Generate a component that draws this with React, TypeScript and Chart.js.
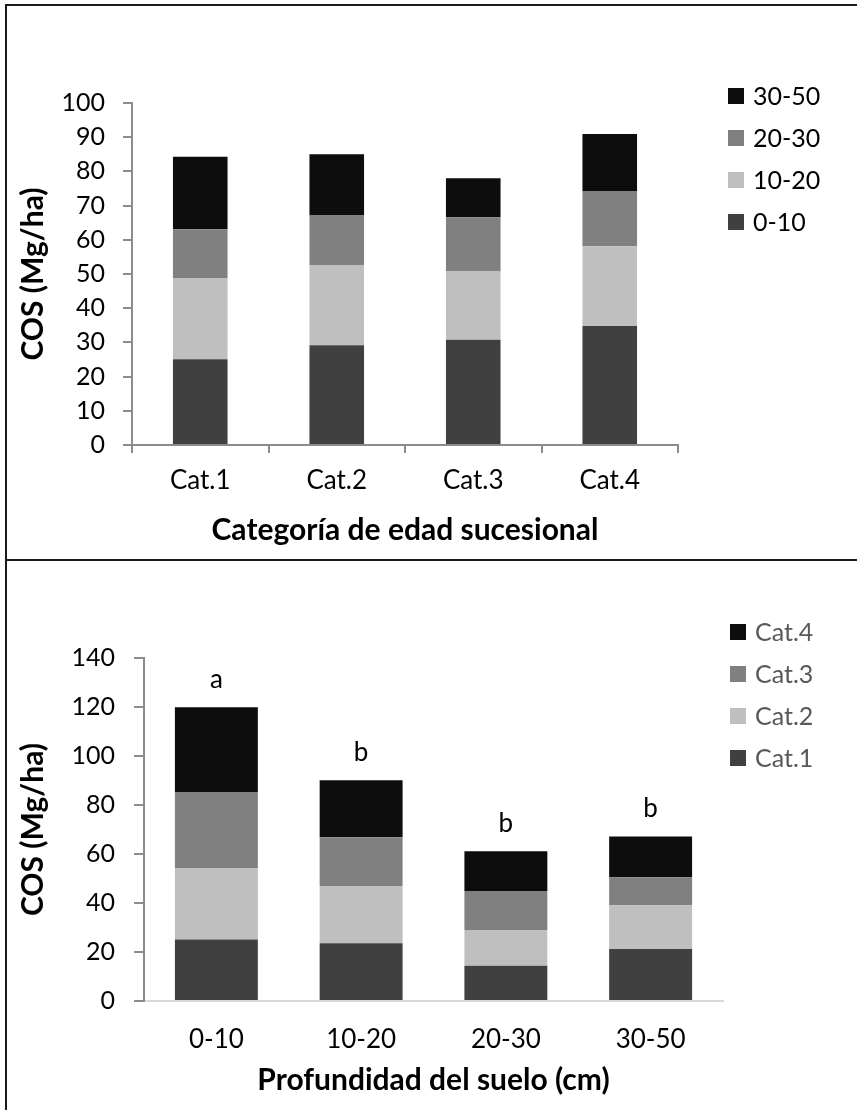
import React, { useEffect, useRef } from "react";
import { Chart, registerables } from "chart.js";

Chart.register(...registerables);

// ---- Data ----
const ageCategories = ["Cat.1", "Cat.2", "Cat.3", "Cat.4"];
const depthLayers = ["0-10", "10-20", "20-30", "30-50"];

// COS (Mg/ha) per depth layer for each successional age category
const cos0to10 = [25.1, 29.2, 30.8, 34.8];
const cos10to20 = [23.6, 23.3, 19.9, 23.3];
const cos20to30 = [14.4, 14.6, 15.9, 16.2];
const cos30to50 = [21.2, 17.9, 11.4, 16.6];

const depthLetters = ["a", "b", "b", "b"];

const seriesColors = ["#404040", "#bfbfbf", "#808080", "#0d0d0d"];

const topTitleX = "Categoría de edad sucesional";
const bottomTitleX = "Profundidad del suelo (cm)";
const titleY = "COS (Mg/ha)";

const FONT = "Lato, 'Open Sans', sans-serif";

function legendPlugin(x: number, y0: number, step: number, textColor: string) {
  return {
    id: "customLegend",
    afterDraw(chart: any) {
      const ctx = chart.ctx;
      const ds = chart.data.datasets;
      ctx.save();
      ctx.font = `25px ${FONT}`;
      ctx.textBaseline = "middle";
      ctx.textAlign = "left";
      for (let k = 0; k < ds.length; k++) {
        const d = ds[ds.length - 1 - k];
        const y = y0 + k * step;
        ctx.fillStyle = d.backgroundColor;
        ctx.fillRect(x, y - 8, 16, 16);
        ctx.fillStyle = textColor;
        ctx.fillText(d.label, x + 25, y + 1);
      }
      ctx.restore();
    },
  };
}

const lettersPlugin = {
  id: "letters",
  afterDatasetsDraw(chart: any) {
    const ctx = chart.ctx;
    const ds = chart.data.datasets;
    const meta = chart.getDatasetMeta(ds.length - 1);
    const yScale = chart.scales.y;
    ctx.save();
    ctx.font = `26px ${FONT}`;
    ctx.fillStyle = "#000";
    ctx.textAlign = "center";
    ctx.textBaseline = "middle";
    depthLetters.forEach((letter, i) => {
      let total = 0;
      ds.forEach((d: any) => (total += d.data[i]));
      const x = meta.data[i].x;
      const y = yScale.getPixelForValue(total) - 28;
      ctx.fillText(letter, x, y);
    });
    ctx.restore();
  },
};

const titleFont = { family: FONT, size: 30, weight: "bold", lineHeight: 1.2 };

function TopChart() {
  const ref = useRef<HTMLCanvasElement | null>(null);
  useEffect(() => {
    if (!ref.current) return;
    const layers = [cos0to10, cos10to20, cos20to30, cos30to50];
    const chart = new Chart(ref.current, {
      type: "bar",
      data: {
        labels: ageCategories,
        datasets: layers.map((vals, i) => ({
          label: depthLayers[i],
          data: vals,
          backgroundColor: seriesColors[i],
          borderWidth: 0,
          barPercentage: 0.4,
          categoryPercentage: 1,
        })),
      },
      options: {
        responsive: false,
        animation: false,
        layout: { padding: { left: 0, right: 179, top: 103, bottom: 0 } },
        plugins: { legend: { display: false }, tooltip: { enabled: false } },
        scales: {
          x: {
            stacked: true,
            afterFit: (s: any) => {
              s.height = 115;
            },
            grid: {
              display: true,
              drawOnChartArea: false,
              drawTicks: true,
              tickLength: 8,
              color: "#8c8c8c",
              lineWidth: 2,
              offset: true,
            },
            border: { display: true, color: "#8c8c8c", width: 2 },
            ticks: { color: "#000", font: { family: FONT, size: 26 }, padding: 12 },
            title: {
              display: true,
              text: topTitleX,
              color: "#000",
              font: titleFont,
              padding: { top: 0, bottom: 12 },
            },
          },
          y: {
            stacked: true,
            min: 0,
            max: 100,
            afterFit: (s: any) => {
              s.width = 132;
            },
            grid: {
              display: true,
              drawOnChartArea: false,
              drawTicks: true,
              tickLength: 9,
              color: "#8c8c8c",
              lineWidth: 2,
            },
            border: { display: true, color: "#8c8c8c", width: 2 },
            ticks: { stepSize: 10, color: "#000", font: { family: FONT, size: 25 }, padding: 18 },
            title: {
              display: true,
              text: titleY,
              color: "#000",
              font: titleFont,
              padding: { top: 15, bottom: 0 },
            },
          },
        },
      },
      plugins: [legendPlugin(728, 96, 42, "#000")],
    } as any);
    return () => chart.destroy();
  }, []);
  return (
    <canvas
      ref={ref}
      width={857}
      height={560}
      style={{ position: "absolute", left: 0, top: 0, width: 857, height: 560 }}
    />
  );
}

function BottomChart() {
  const ref = useRef<HTMLCanvasElement | null>(null);
  useEffect(() => {
    if (!ref.current) return;
    const layers = [cos0to10, cos10to20, cos20to30, cos30to50];
    const chart = new Chart(ref.current, {
      type: "bar",
      data: {
        labels: depthLayers,
        datasets: ageCategories.map((cat, ci) => ({
          label: cat,
          data: layers.map((vals) => vals[ci]),
          backgroundColor: seriesColors[ci],
          borderWidth: 0,
          barPercentage: 0.573,
          categoryPercentage: 1,
        })),
      },
      options: {
        responsive: false,
        animation: false,
        layout: { padding: { left: 0, right: 134, top: 98, bottom: 0 } },
        plugins: { legend: { display: false }, tooltip: { enabled: false } },
        scales: {
          x: {
            stacked: true,
            afterFit: (s: any) => {
              s.height = 109;
            },
            grid: { display: false, drawTicks: false },
            border: { display: true, color: "#d9d9d9", width: 2 },
            ticks: { color: "#000", font: { family: FONT, size: 26 }, padding: 23 },
            title: {
              display: true,
              text: bottomTitleX,
              color: "#000",
              font: titleFont,
              padding: { top: 0, bottom: 12 },
            },
          },
          y: {
            stacked: true,
            min: 0,
            max: 140,
            afterFit: (s: any) => {
              s.width = 144;
            },
            grid: {
              display: true,
              drawOnChartArea: false,
              drawTicks: true,
              tickLength: 10,
              color: "#8c8c8c",
              lineWidth: 2,
            },
            border: { display: true, color: "#8c8c8c", width: 2 },
            ticks: { stepSize: 20, color: "#000", font: { family: FONT, size: 25 }, padding: 19 },
            title: {
              display: true,
              text: titleY,
              color: "#000",
              font: titleFont,
              padding: { top: 15, bottom: 0 },
            },
          },
        },
      },
      plugins: [legendPlugin(730, 72, 42, "#595959"), lettersPlugin],
    } as any);
    return () => chart.destroy();
  }, []);
  return (
    <canvas
      ref={ref}
      width={857}
      height={550}
      style={{ position: "absolute", left: 0, top: 560, width: 857, height: 550 }}
    />
  );
}

export default function App() {
  const line = "#1a1a1a";
  return (
    <div
      style={{
        position: "absolute",
        left: 0,
        top: 0,
        width: 857,
        height: 1110,
        background: "#fff",
        overflow: "hidden",
      }}
    >
      <TopChart />
      <BottomChart />
      <div style={{ position: "absolute", left: 5, top: 4, width: 2, height: 1106, background: line }} />
      <div style={{ position: "absolute", left: 5, top: 4, width: 852, height: 2, background: line }} />
      <div style={{ position: "absolute", left: 5, top: 559, width: 852, height: 2, background: line }} />
    </div>
  );
}
